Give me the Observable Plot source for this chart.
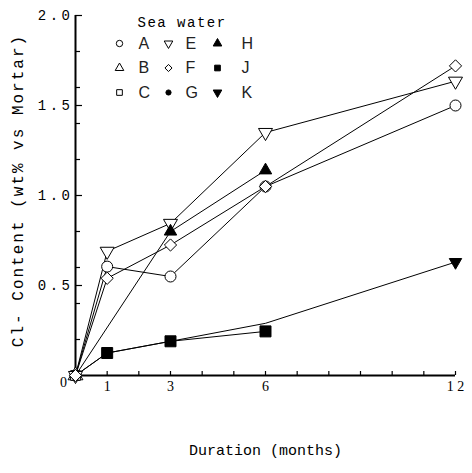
<!DOCTYPE html>
<html><head><meta charset="utf-8">
<script src="https://cdn.jsdelivr.net/npm/d3@7"></script>
<script src="https://cdn.jsdelivr.net/npm/@observablehq/plot@0.6"></script>
<style>
body{margin:0;background:#fff}
#wrap{position:relative;width:472px;height:473px}
#wrap svg{position:absolute;left:0;top:0;background:transparent}
</style></head><body><div id="wrap"></div>
<script>
// ---- data (months, Cl- content wt%) ----
const durA = [0, 1, 3, 6, 12];  const valA = [0, 0.605, 0.55, 1.05, 1.50];
const durE = [0, 1, 3, 6, 12];  const valE = [0, 0.69, 0.845, 1.35, 1.635];
const durF = [0, 1, 3, 6, 12];  const valF = [0, 0.54, 0.725, 1.05, 1.72];
const durH = [0, 3, 6];         const valH = [0, 0.80, 1.14];
const durB = [0];               const valB = [0];
const durC = [0];               const valC = [0];
const durJ = [0, 1, 3, 6];      const valJ = [0, 0.125, 0.19, 0.245];
const durK = [0, 1, 3, 6, 12];  const valK = [0, 0.125, 0.19, 0.29, 0.63];
// months at which a marker is visible
const markA = [0, 1, 3, 6, 12], markE = [0, 1, 3, 6, 12], markF = [0, 1, 3, 6, 12];
const markH = [3, 6], markB = [0], markC = [0], markJ = [1, 3, 6], markK = [12];

const legendNames = ["A", "B", "C", "E", "F", "G", "H", "J", "K"];
const legendCol   = [0, 0, 0, 1, 1, 1, 2, 2, 2];
const legendRow   = [0, 1, 2, 0, 1, 2, 0, 1, 2];
const legendTitle = "Sea water";

const xTickMonths = [1,2,3,4,5,6,7,8,9,10,11,12];
const xLabelMonths = [1, 3, 6, 12];
const xTickLabels = ["1", "3", "6", "1 2"];
const yMinorTicks = [0.2, 0.4, 0.6, 0.8, 1.2, 1.4, 1.6, 1.8];
const yMajorTicks = [0.5, 1.0, 1.5, 2.0];
const yTickLabels = ["0.5", "1.0", "1.5", "2.0"];
const xTitle = "Duration (months)";
const yTitle = "Cl- Content (wt% vs Mortar)";

// ---- symbols ----
const triDown = {draw(ctx, size) {
  const y = -Math.sqrt(size / (Math.sqrt(3) * 3));
  ctx.moveTo(0, -y * 2); ctx.lineTo(-Math.sqrt(3) * y, y); ctx.lineTo(Math.sqrt(3) * y, y); ctx.closePath();
}};
const style = {
  A: {symbol: "circle", fill: "white"},
  B: {symbol: "triangle", fill: "white"},
  C: {symbol: "square", fill: "white"},
  E: {symbol: triDown, fill: "white"},
  F: {symbol: "diamond2", fill: "white"},
  G: {symbol: "circle", fill: "black"},
  H: {symbol: "triangle", fill: "black"},
  J: {symbol: "square", fill: "black"},
  K: {symbol: triDown, fill: "black"}
};
const series = [
  {name: "A", dur: durA, val: valA, mark: markA},
  {name: "B", dur: durB, val: valB, mark: markB},
  {name: "C", dur: durC, val: valC, mark: markC},
  {name: "E", dur: durE, val: valE, mark: markE},
  {name: "F", dur: durF, val: valF, mark: markF},
  {name: "H", dur: durH, val: valH, mark: markH},
  {name: "J", dur: durJ, val: valJ, mark: markJ},
  {name: "K", dur: durK, val: valK, mark: markK}
];
const rows = s => s.dur.map((d, i) => ({name: s.name, month: d, value: s.val[i]}));
const markerRadius = {A: 5.5, B: 5.5, C: 5.5, E: 5.2, F: 5.5, G: 5, H: 4.6, J: 6.2, K: 4.6};

const mono = "Liberation Mono, monospace";
const marks = [];
// axes
marks.push(Plot.ruleX([0], {y1: 0, y2: 2, strokeWidth: 2}));
marks.push(Plot.ruleY([0], {x1: 0, x2: 12, strokeWidth: 2}));
marks.push(Plot.ruleX(xTickMonths, {x: d => d, y1: 0, y2: 0, insetBottom: 4, strokeWidth: 1.2}));
marks.push(Plot.ruleY(yMinorTicks, {y: d => d, x1: 0, x2: 0, insetRight: -5, strokeWidth: 1.2}));
marks.push(Plot.ruleY(yMajorTicks, {y: d => d, x1: 0, x2: 0, insetRight: -7, strokeWidth: 1.2}));
marks.push(Plot.text(xLabelMonths, {x: d => d, y: 0, text: (d, i) => xTickLabels[i], dy: 11, fontSize: 14, fontFamily: "Liberation Serif, serif"}));
marks.push(Plot.text(["0"], {x: 0, y: 0, text: d => d, dx: -12, dy: 7, fontSize: 14, fontFamily: "Liberation Serif, serif"}));
marks.push(Plot.text(yMajorTicks, {x: 0, y: d => d, text: (d, i) => yTickLabels[i], textAnchor: "end", dx: -2, fontSize: 14, fontFamily: mono}));
marks.push(Plot.text([xTitle], {frameAnchor: "bottom", text: d => d, dy: 79, fontSize: 15, fontFamily: mono}));
marks.push(Plot.text([yTitle], {frameAnchor: "left", textAnchor: "middle", text: d => d, rotate: -90, dx: -58, dy: -5, fontSize: 16, fontFamily: mono}));
// lines
for (const s of series) {
  if (s.dur.length > 1) marks.push(Plot.line(rows(s), {x: "month", y: "value", stroke: "black", strokeWidth: 1}));
}
// markers
for (const s of series) {
  const st = style[s.name];
  marks.push(Plot.dot(rows(s).filter(r => s.mark.includes(r.month)), {x: "month", y: "value", symbol: st.symbol, fill: st.fill, stroke: "black", strokeWidth: 1, r: markerRadius[s.name]}));
}

const chart = Plot.plot({
  width: 472, height: 473,
  marginLeft: 75, marginTop: 15, marginRight: 17, marginBottom: 98,
  x: {domain: [0, 12], axis: null},
  y: {domain: [0, 2], axis: null},
  marks
});
document.getElementById("wrap").appendChild(chart);

// letter spacing for typewriter-style texts
const spacing = (root, match, ls) => d3.select(root).selectAll("text")
  .filter(function () { return match(this.textContent); })
  .attr("letter-spacing", ls);
spacing(chart, t => yTickLabels.includes(t), "3.5px");
spacing(chart, t => t === yTitle, "2px");

// ---- legend (overlay) ----
const legendData = legendNames.map((n, i) => ({name: n, col: legendCol[i], row: legendRow[i]}));
const legendMarks = [];
legendMarks.push(Plot.text([legendTitle], {frameAnchor: "top-left", text: d => d, dx: 137, dy: 17, fontSize: 14, fontFamily: mono}));
for (const d of legendData) {
  const st = style[d.name];
  legendMarks.push(Plot.dot([d], {x: "col", y: "row", symbol: st.symbol, fill: st.fill, stroke: "black", strokeWidth: 1, r: d.name === "G" ? 2.6 : 3.2}));
}
const labelDx = [19, 17, 24];
for (const c of [0, 1, 2]) {
  legendMarks.push(Plot.text(legendData.filter(d => d.col === c), {x: "col", y: "row", text: "name", dx: labelDx[c], textAnchor: "start", fontSize: 16, fontFamily: "Liberation Sans, sans-serif", fill: "#222"}));
}
const legend = Plot.plot({
  width: 472, height: 120, margin: 0,
  x: {domain: [0, 2], range: [119, 217], axis: null},
  y: {domain: [0, 2], range: [43, 92], axis: null},
  marks: legendMarks
});
document.getElementById("wrap").appendChild(legend);
spacing(legend, t => t === legendTitle, "1.5px");
</script></body></html>
